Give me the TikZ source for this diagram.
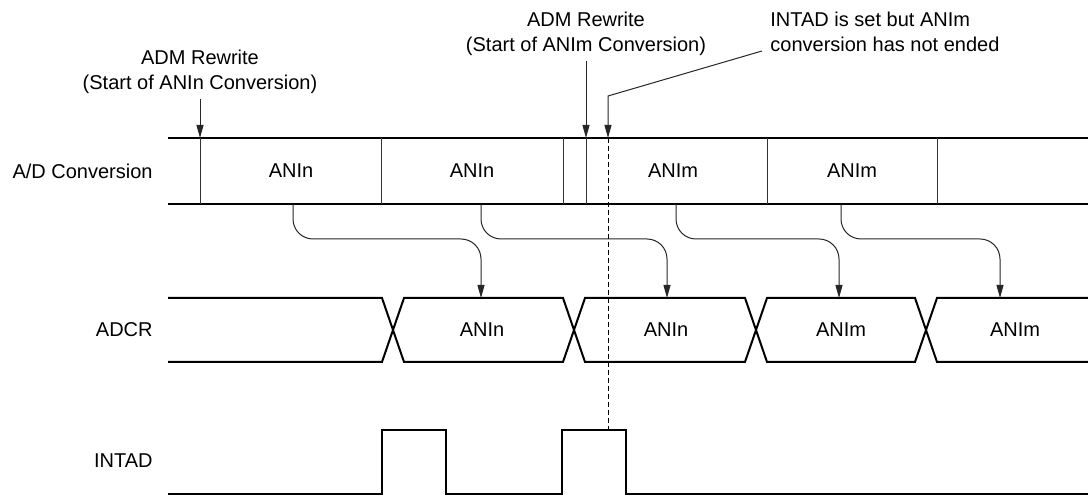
\documentclass[tikz,border=0pt]{standalone}
\usepackage{fontspec}
\setmainfont{Liberation Sans}
\usetikzlibrary{arrows.meta}

\begin{document}
\begin{tikzpicture}[
        x=0.5pt, y=-0.5pt,
        bus/.style={line width=1pt, black},
        sep/.style={line width=0.5pt, black!80},
        pointer/.style={line width=0.5pt, black!85, -{Triangle[length=6.5pt,width=3.5pt]}},
        flow/.style={pointer, rounded corners=10pt},
        sig/.style={font=\fontsize{10pt}{12.5pt}\selectfont, anchor=east, inner sep=0pt},
        val/.style={font=\fontsize{10pt}{12.5pt}\selectfont, inner sep=0pt},
        note/.style={font=\fontsize{10pt}{12.5pt}\selectfont, align=center, inner sep=2.5pt}
    ]
    \useasboundingbox (0,0) rectangle (1088,496);

    % Signal names
    \node[sig] (ad) at (153,171) {A/D Conversion};
    \node[sig] (adcr) at (153,330) {ADCR};
    \node[sig] (intad) at (153,461) {INTAD};

    % A/D conversion bus
    \draw[bus] (168,138) -- (1088,138);
    \draw[bus] (168,204) -- (1088,204);
    \foreach \x in {200,381,563,586,767,937}
        \draw[sep] (\x,138) -- (\x,204);
    \node[val] (c1) at (291,171) {ANIn};
    \node[val] (c2) at (472,171) {ANIn};
    \node[val] (c3) at (673,171) {ANIm};
    \node[val] (c4) at (852,171) {ANIm};

    % ADCR bus
    \draw[bus] (168,298) -- (382,298) -- (404,362) -- (563,362) -- (585,298) -- (745,298)
        -- (767,362) -- (915,362) -- (937,298) -- (1088,298);
    \draw[bus] (168,362) -- (382,362) -- (404,298) -- (563,298) -- (585,362) -- (745,362)
        -- (767,298) -- (915,298) -- (937,362) -- (1088,362);
    \node[val] (r1) at (482,330) {ANIn};
    \node[val] (r2) at (666,330) {ANIn};
    \node[val] (r3) at (841,330) {ANIm};
    \node[val] (r4) at (1015,330) {ANIm};

    % INTAD
    \draw[bus] (168,494) -- (382,494) -- (382,430) -- (446,430) -- (446,494) -- (562,494)
        -- (562,430) -- (626,430) -- (626,494) -- (1088,494);

    % results move from A/D conversion to ADCR
    \foreach \s/\e [count=\i] in {293/481, 481/667, 676/839, 841/1000} {
        \coordinate (s\i) at (\s,204);
        \coordinate (e\i) at (\e,298);
        \draw[flow] (s\i) -- ++(0,35) -| (e\i);
    }

    % ADM rewrites
    \node[note, anchor=south] (rw1) at (200,99) {ADM Rewrite\\(Start of ANIn Conversion)};
    \coordinate (t1) at (200,138);
    \draw[pointer] (rw1.south) -- (t1);

    \node[note, anchor=south] (rw2) at (586,61) {ADM Rewrite\\(Start of ANIm Conversion)};
    \coordinate (t2) at (586,138);
    \draw[pointer] (rw2.south) -- (t2);

    % INTAD set before the end
    \node[note, align=left, anchor=south west, inner sep=0pt] (warn) at (770,52) {INTAD is set but ANIm\\conversion has not ended};
    \coordinate (lead) at (762,51);
    \coordinate (knee) at (608,96);
    \coordinate (t3) at (608,138);
    \coordinate (p2) at (608,430);
    \draw[pointer] (lead) -- (knee) -- (t3);
    \draw[line width=0.5pt, dash pattern=on 2.5pt off 1.5pt] (t3) -- (p2);
\end{tikzpicture}
\end{document}
